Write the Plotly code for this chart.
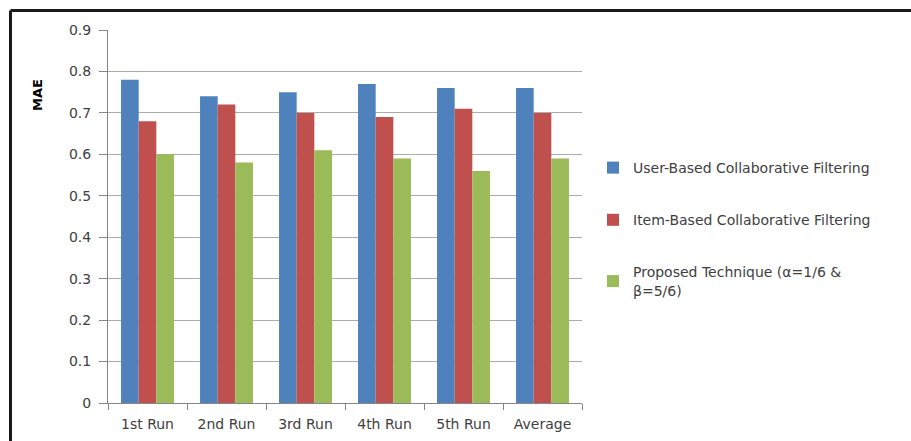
import plotly.graph_objects as go

categories = ["1st Run", "2nd Run", "3rd Run", "4th Run", "5th Run", "Average"]
user_based = [0.78, 0.74, 0.75, 0.77, 0.76, 0.76]
item_based = [0.68, 0.72, 0.70, 0.69, 0.71, 0.70]
proposed = [0.60, 0.58, 0.61, 0.59, 0.56, 0.59]
series_names = ["User-Based Collaborative Filtering",
                "Item-Based Collaborative Filtering",
                "Proposed Technique (α=1/6 &<br>β=5/6)"]
colors = ["#4F81BD", "#C0504D", "#9BBB59"]
y_ticks = [0, 0.1, 0.2, 0.3, 0.4, 0.5, 0.6, 0.7, 0.8, 0.9]
y_tick_labels = ["0", "0.1", "0.2", "0.3", "0.4", "0.5", "0.6", "0.7", "0.8", "0.9"]

W, H = 911, 441
L, R, T, B = 108, 582, 30, 403

fig = go.Figure()
for i, (name, vals) in enumerate(zip(series_names, [user_based, item_based, proposed])):
    fig.add_trace(go.Bar(x=categories, y=vals, name=name, marker_color=colors[i],
                         marker_line_width=0, legendgroup=str(i)))

def px2x(px):
    return (px - L) / (R - L)

def py2y(py):
    return (B - py) / (B - T)

fig.update_layout(
    width=W, height=H,
    margin=dict(l=L, r=W - R, t=T, b=H - B),
    paper_bgcolor="white", plot_bgcolor="white",
    barmode="group", bargap=0.33, bargroupgap=0,
    font=dict(family="DejaVu Sans", size=14, color="#404040"),
    legend=dict(x=px2x(593), y=py2y(152), xanchor="left", yanchor="top",
                tracegroupgap=31, traceorder="grouped",
                font=dict(family="DejaVu Sans", size=14, color="#404040"),
                itemwidth=30),
    xaxis=dict(showline=True, linecolor="#868686", linewidth=1,
               ticks="outside", ticklen=6, tickcolor="#868686",
               tickson="boundaries", showgrid=False, automargin=False,
               ticklabelstandoff=8),
    yaxis=dict(range=[0, 0.9], tickvals=y_ticks, ticktext=y_tick_labels,
               showline=True, linecolor="#868686", linewidth=1,
               ticks="outside", ticklen=8, tickcolor="#868686",
               showgrid=True, gridcolor="#ababab", gridwidth=1,
               zeroline=False, ticklabelstandoff=5, automargin=False),
    annotations=[dict(text="<b>MAE</b>", textangle=-90, xref="paper", yref="paper",
                      x=px2x(37), y=py2y(95), xanchor="center", yanchor="middle",
                      showarrow=False,
                      font=dict(family="DejaVu Sans", size=13, color="#000000"))],
    shapes=[
        dict(type="line", xref="paper", yref="paper",
             x0=px2x(10.5), x1=px2x(915), y0=py2y(10.5), y1=py2y(10.5),
             line=dict(color="#1a1a1a", width=3)),
        dict(type="line", xref="paper", yref="paper",
             x0=px2x(10.5), x1=px2x(10.5), y0=py2y(10.5), y1=py2y(445),
             line=dict(color="#1a1a1a", width=3)),
    ],
)

fig.write_html("out.html")
